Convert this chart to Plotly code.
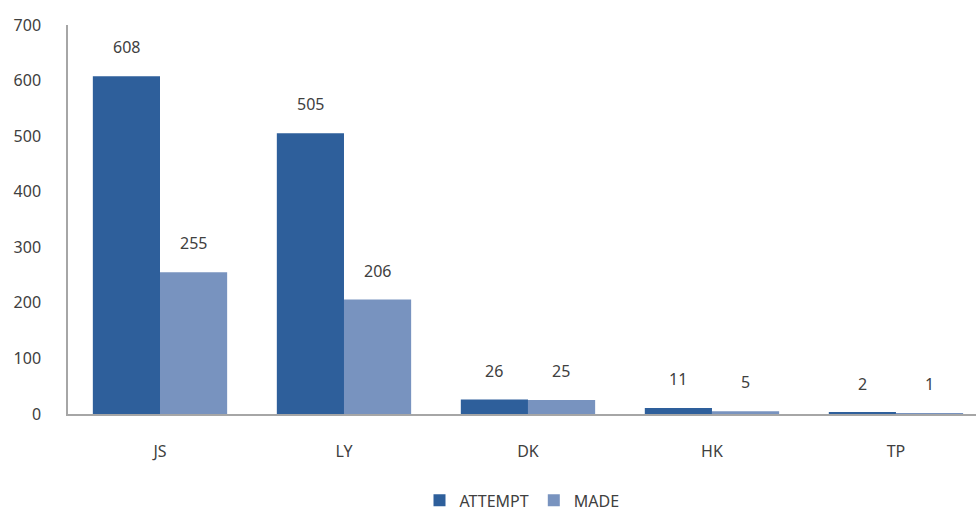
import plotly.graph_objects as go

categories = ["JS", "LY", "DK", "HK", "TP"]
attempt = [608, 505, 26, 11, 2]
made = [255, 206, 25, 5, 1]
y_ticks = [0, 100, 200, 300, 400, 500, 600, 700]

font_family = "Noto Sans, Open Sans, sans-serif"
text_color = "#404040"

fig = go.Figure()
fig.add_trace(go.Bar(
    x=categories, y=attempt, name="ATTEMPT",
    marker=dict(color="#2e5f9b", line=dict(width=0)),
))
fig.add_trace(go.Bar(
    x=categories, y=made, name="MADE",
    marker=dict(color="#7893bf", line=dict(width=0)),
))

bar_px = 67
for i, c in enumerate(categories):
    for vals, shift in ((attempt, -bar_px / 2), (made, bar_px / 2)):
        fig.add_annotation(
            x=c, y=vals[i], xref="x", yref="y", text=str(vals[i]),
            showarrow=False, xshift=shift, yshift=29,
            font=dict(family=font_family, size=16, color=text_color),
        )

fig.update_layout(
    width=976, height=513,
    margin=dict(l=68, r=0, t=25, b=99, autoexpand=False),
    paper_bgcolor="white", plot_bgcolor="white",
    barmode="group", bargap=0.27, bargroupgap=0,
    font=dict(family=font_family, size=16, color=text_color),
    showlegend=True,
    legend=dict(orientation="h", x=0.5, xanchor="center", y=-0.222, yanchor="middle",
                font=dict(size=16, color=text_color), itemwidth=30,
                traceorder="normal"),
)
fig.update_xaxes(
    range=[-0.5, 4.435], showline=True, linecolor="#a6a6a6", linewidth=1.5,
    showgrid=False, ticks="", ticklabelstandoff=22, zeroline=False,
    automargin=False,
)
fig.update_yaxes(
    range=[0, 700], tickvals=y_ticks, showline=True, linecolor="#a6a6a6",
    linewidth=1.5, showgrid=False, ticks="", ticklabelstandoff=22, zeroline=False,
    automargin=False,
)

fig.write_html("out.html")
